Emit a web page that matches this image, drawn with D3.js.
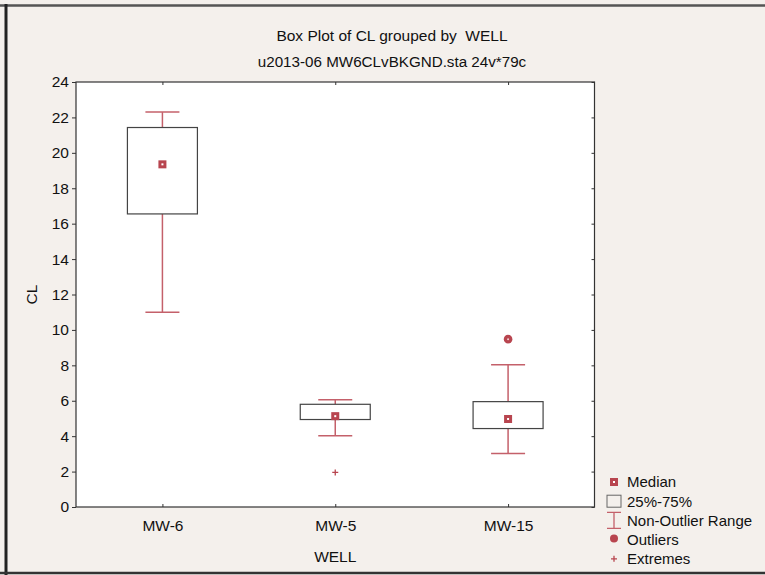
<!DOCTYPE html>
<html><head><meta charset="utf-8">
<script src="https://cdn.jsdelivr.net/npm/d3@7/dist/d3.min.js"></script>
<style>
html,body{margin:0;padding:0;background:#f4f0ec;}
svg{display:block;}
text{font-family:"Liberation Sans",Arial,sans-serif;fill:#111;}
</style></head>
<body>
<script>
const categories = ["MW-6", "MW-5", "MW-15"];
const medians    = [19.35, 5.13, 4.97];
const q1         = [16.55, 4.94, 4.43];
const q3         = [21.43, 5.80, 5.95];
const whiskerLow = [11.0, 4.02, 3.02];
const whiskerHigh= [22.3, 6.05, 8.03];
const outliers   = [[], [], [9.48]];
const extremes   = [[], [1.95], []];
const yTicks     = [0,2,4,6,8,10,12,14,16,18,20,22,24];
const legendLabels = ["Median","25%-75%","Non-Outlier Range","Outliers","Extremes"];

const W = 765, H = 575;
const red = "#b8454f", whiskerRed = "#c4606a";
const plot = {left:76, right:594.5, top:82, bottom:507};

const svg = d3.select("body").append("svg").attr("width",W).attr("height",H);
svg.append("rect").attr("width",W).attr("height",H).attr("fill","#f4f0ec");
// outer scan frame
svg.append("line").attr("x1",0).attr("x2",W).attr("y1",5.5).attr("y2",5.5).attr("stroke","#555").attr("stroke-width",2.5);
svg.append("line").attr("x1",6).attr("x2",6).attr("y1",4).attr("y2",H).attr("stroke","#222").attr("stroke-width",3);
svg.append("line").attr("x1",0).attr("x2",W).attr("y1",573).attr("y2",573).attr("stroke","#333").attr("stroke-width",2.5);

const x = d3.scalePoint().domain(categories).range([plot.left, plot.right]).padding(0.5);
const y = d3.scaleLinear().domain([0,24]).range([plot.bottom, plot.top]);

svg.append("rect").attr("x",plot.left).attr("y",plot.top).attr("width",plot.right-plot.left).attr("height",plot.bottom-plot.top)
  .attr("fill","#fff").attr("stroke","#333").attr("stroke-width",1.2);

// titles
svg.append("text").attr("x",392).attr("y",41).attr("text-anchor","middle").attr("font-size",15.5)
  .style("white-space","pre").text("Box Plot of CL grouped by  WELL");
svg.append("text").attr("x",392).attr("y",67).attr("text-anchor","middle").attr("font-size",15.2).text("u2013-06 MW6CLvBKGND.sta 24v*79c");

// y axis
const yAxis = d3.axisLeft(y).tickValues(yTicks).tickSize(4).tickPadding(3).tickFormat(d3.format("d"));
const gy = svg.append("g").attr("transform",`translate(${plot.left},0)`).call(yAxis);
gy.select(".domain").remove();
gy.selectAll("line").attr("stroke","#333");
gy.selectAll("text").attr("font-size",15.5).attr("font-family","Liberation Sans, Arial, sans-serif").attr("fill","#111");
// right inner ticks
const gyr = svg.append("g").attr("transform",`translate(${plot.right},0)`).call(d3.axisLeft(y).tickValues(yTicks).tickSize(3).tickFormat(""));
gyr.select(".domain").remove(); gyr.selectAll("line").attr("stroke","#333");

// x axis
const gx = svg.append("g").attr("transform",`translate(0,${plot.bottom})`).call(d3.axisBottom(x).tickSize(-3).tickPadding(10));
gx.select(".domain").remove();
gx.selectAll("line").attr("stroke","#333");
gx.selectAll("text").attr("font-size",15.5).attr("font-family","Liberation Sans, Arial, sans-serif").attr("fill","#111").attr("dy","0.9em");
const gxt = svg.append("g").attr("transform",`translate(0,${plot.top})`).call(d3.axisBottom(x).tickSize(3).tickFormat(""));
gxt.select(".domain").remove(); gxt.selectAll("line").attr("stroke","#333");

svg.append("text").attr("x",(plot.left+plot.right)/2).attr("y",562).attr("text-anchor","middle").attr("font-size",15.5).text("WELL");
svg.append("text").attr("transform",`translate(37,${(plot.top+plot.bottom)/2}) rotate(-90)`).attr("text-anchor","middle").attr("font-size",15.5).text("CL");

// boxes
const boxW = 70, capW = 34;
const g = svg.append("g");
categories.forEach((c,i)=>{
  const cx = x(c);
  g.append("line").attr("x1",cx).attr("x2",cx).attr("y1",y(whiskerHigh[i])).attr("y2",y(q3[i])).attr("stroke",whiskerRed).attr("stroke-width",1.5);
  g.append("line").attr("x1",cx).attr("x2",cx).attr("y1",y(q1[i])).attr("y2",y(whiskerLow[i])).attr("stroke",whiskerRed).attr("stroke-width",1.5);
  [whiskerHigh[i], whiskerLow[i]].forEach(v=>{
    g.append("line").attr("x1",cx-capW/2).attr("x2",cx+capW/2).attr("y1",y(v)).attr("y2",y(v)).attr("stroke",whiskerRed).attr("stroke-width",1.5);
  });
  g.append("rect").attr("x",cx-boxW/2).attr("y",y(q3[i])).attr("width",boxW).attr("height",y(q1[i])-y(q3[i]))
    .attr("fill","#fff").attr("stroke","#444").attr("stroke-width",1.2);
  g.append("rect").attr("x",cx-4).attr("y",y(medians[i])-4).attr("width",8).attr("height",8).attr("fill",red);
  g.append("rect").attr("x",cx-1).attr("y",y(medians[i])-1).attr("width",2).attr("height",2).attr("fill","#fff");
  outliers[i].forEach(v=>{
    g.append("circle").attr("cx",cx).attr("cy",y(v)).attr("r",4.3).attr("fill",red);
    g.append("circle").attr("cx",cx).attr("cy",y(v)).attr("r",1).attr("fill","#f2d0d4");
  });
  extremes[i].forEach(v=>{
    g.append("path").attr("d",`M${cx-3},${y(v)}H${cx+3}M${cx},${y(v)-3}V${y(v)+3}`).attr("stroke",red).attr("stroke-width",1.3);
  });
});

// legend
const lx = 614, ly0 = 482, ldy = 19.2;
const lg = svg.append("g");
legendLabels.forEach((t,i)=>{
  lg.append("text").attr("x",627).attr("y",ly0+i*ldy).attr("dy","0.36em").attr("font-size",15).text(t);
});
let yy = ly0;
lg.append("rect").attr("x",lx-4).attr("y",yy-4).attr("width",8).attr("height",8).attr("fill",red);
lg.append("rect").attr("x",lx-1).attr("y",yy-1).attr("width",2).attr("height",2).attr("fill","#fff");
yy = ly0+ldy;
lg.append("rect").attr("x",lx-7).attr("y",yy-6).attr("width",14).attr("height",12).attr("fill","none").attr("stroke","#666").attr("stroke-width",1);
yy = ly0+2*ldy;
lg.append("path").attr("d",`M${lx-7},${yy-8}H${lx+7}M${lx},${yy-8}V${yy+8}M${lx-7},${yy+8}H${lx+7}`).attr("stroke",whiskerRed).attr("stroke-width",1.3).attr("fill","none");
yy = ly0+3*ldy;
lg.append("circle").attr("cx",lx).attr("cy",yy-1).attr("r",4).attr("fill",red);
yy = ly0+4*ldy;
lg.append("path").attr("d",`M${lx-3},${yy}H${lx+3}M${lx},${yy-3}V${yy+3}`).attr("stroke",red).attr("stroke-width",1.3);
</script>
</body></html>
